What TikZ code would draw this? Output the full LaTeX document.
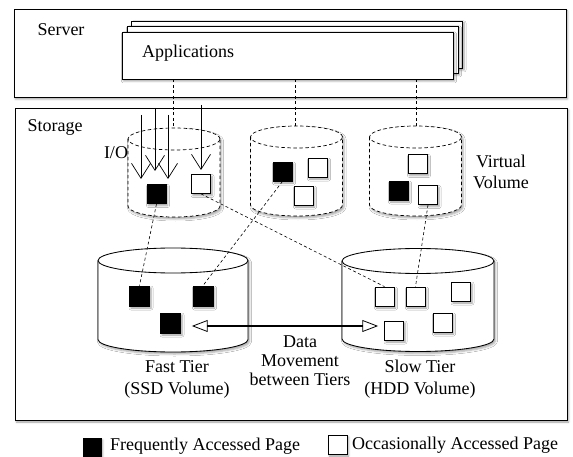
\documentclass[tikz,border=0pt]{standalone}
\usepackage{fontspec}
\setmainfont{Liberation Serif}
\usetikzlibrary{arrows.meta,shadows.blur,shapes.arrows}

% cylinder: #1 centre x, #2 top y, #3 bottom y, #4 x radius, #5 y radius, #6 line style
\newcommand\drawdrum[6]{%
  \fill[white, blur shadow={shadow xshift=1.5pt, shadow yshift=-2pt, shadow blur radius=2pt, shadow opacity=35}]
    (#1-#4,#2) -- (#1-#4,#3) arc[start angle=180, end angle=360, x radius=#4pt, y radius=#5pt]
    -- (#1+#4,#2) arc[start angle=0, end angle=180, x radius=#4pt, y radius=#5pt] -- cycle;
  \draw[#6] (#1,#2) ellipse[x radius=#4pt, y radius=#5pt];
  \draw[#6] (#1-#4,#2) -- (#1-#4,#3)
    arc[start angle=180, end angle=360, x radius=#4pt, y radius=#5pt] -- (#1+#4,#2);
}

\tikzset{
  softshadow/.style={blur shadow={shadow xshift=1.5pt, shadow yshift=-2pt, shadow blur radius=2pt, shadow opacity=40}},
  panel/.style={draw, line width=0.9pt, fill=white, softshadow, inner sep=0pt},
  appbox/.style={draw, line width=0.8pt, fill=white, softshadow, minimum width=331pt, minimum height=47pt, inner sep=0pt},
  page/.style={draw, line width=0.8pt, minimum size=19pt, inner sep=0pt, softshadow},
  hot/.style={page, fill=black},
  cold/.style={page, fill=white},
  link/.style={dashed, dash pattern=on 3pt off 2.5pt, line width=0.6pt},
  vvline/.style={dashed, dash pattern=on 3.5pt off 2.5pt, line width=0.7pt},
  tierline/.style={line width=0.85pt},
  io/.style={line width=0.7pt, -{Straight Barb[length=15pt, width=19pt]}},
  label/.style={inner sep=0pt, align=center},
}

\begin{document}
\begin{tikzpicture}[x=1pt, y=-1pt, font=\fontsize{18}{21}\selectfont]
\useasboundingbox (0,0) rectangle (573,457);

% server and storage panels
\node[panel, minimum width=552pt, minimum height=88pt] (server) at (290,53) {};
\node[panel, minimum width=552pt, minimum height=312pt] (storage) at (291,264) {};
\node[label] (serverlbl) at (61,30) {Server};
\node[label] (storagelbl) at (55,127) {Storage};

% stacked applications
\node[appbox] (app3) at (297,44.5) {};
\node[appbox] (app2) at (292.5,49.5) {};
\node[appbox] (app) at (287.5,55.5) {};
\node[label, anchor=west] (applbl) at (142,53) {Applications};

% virtual volumes
\drawdrum{174}{139}{206}{46}{11}{vvline}
\drawdrum{296.5}{137}{205}{46}{11}{vvline}
\drawdrum{415.5}{137}{205}{46}{11}{vvline}
\coordinate (vv1top) at (173,128);
\coordinate (vv2top) at (295,126);
\coordinate (vv3top) at (416,126);

% tiers
\drawdrum{173}{260.5}{339.5}{75}{12.5}{tierline}
\drawdrum{418}{261}{339}{76}{12.5}{tierline}

% application to virtual volume mappings
\draw[link] (app.south -| vv1top) -- (vv1top);
\draw[link] (app.south -| vv2top) -- (vv2top);
\draw[link] (app.south -| vv3top) -- (vv3top);

% pages in the virtual volumes
\node[hot]  (v1a) at (156.5,194) {};
\node[cold] (v1b) at (201,184) {};
\node[hot]  (v2a) at (282.5,171.5) {};
\node[cold] (v2b) at (317.5,167.5) {};
\node[cold] (v2c) at (303.5,195.5) {};
\node[cold] (v3a) at (417.5,164) {};
\node[hot]  (v3b) at (398.5,190.5) {};
\node[cold] (v3c) at (428,195) {};

% pages in the tiers
\node[hot, minimum size=20pt] (f1) at (139.5,296) {};
\node[hot, minimum size=20pt] (f2) at (203,296) {};
\node[hot, minimum size=20pt] (f3) at (170.5,323) {};
\node[cold] (s1) at (384.5,296.5) {};
\node[cold] (s2) at (415.5,296.5) {};
\node[cold] (s3) at (461,291.5) {};
\node[cold] (s4) at (394,330.5) {};
\node[cold] (s5) at (442.5,322.5) {};

% page placement
\draw[link] (v1a.south) -- (f1.north);
\draw[link] (v1b.south) -- (s1.north);
\draw[link] (v2a.south) -- (f2.north);
\draw[link] (v3c.south) -- (s2.north);

% I/O requests
\coordinate (io1s) at (141,115); \coordinate (io1e) at (141,179);
\coordinate (io2s) at (155,108); \coordinate (io2e) at (155,171);
\coordinate (io3s) at (168,115); \coordinate (io3e) at (168,179);
\coordinate (io4s) at (201,105); \coordinate (io4e) at (201,170);
\draw[io] (io1s) -- (io1e);
\draw[io] (io2s) -- (io2e);
\draw[io] (io3s) -- (io3e);
\draw[io] (io4s) -- (io4e);
\node[label] (iolbl) at (116,153) {I/O};

% data movement between tiers
\node[double arrow, draw, fill=white, line width=0.8pt, minimum height=184pt, minimum width=11pt,
      double arrow head extend=3.5pt, double arrow tip angle=42, inner sep=0pt] (move) at (285,326) {};
\node[label, font=\fontsize{18}{19}\selectfont] (movelbl) at (300,361) {Data\\Movement\\between Tiers};

\node[label, font=\fontsize{18}{22}\selectfont] (fastlbl) at (177,379) {Fast Tier\\(SSD Volume)};
\node[label, font=\fontsize{18}{22}\selectfont] (slowlbl) at (420,379) {Slow Tier\\(HDD Volume)};
\node[label] (vvlbl) at (501,172) {Virtual\\Volume};

% legend
\node[hot, minimum size=18pt] (keyhot) at (92,447) {};
\node[label, anchor=west] (keyhotlbl) at (110,446) {Frequently Accessed Page};
\node[cold] (keycold) at (337.5,444.5) {};
\node[label, anchor=west] (keycoldlbl) at (352,445) {Occasionally Accessed Page};
\end{tikzpicture}
\end{document}
